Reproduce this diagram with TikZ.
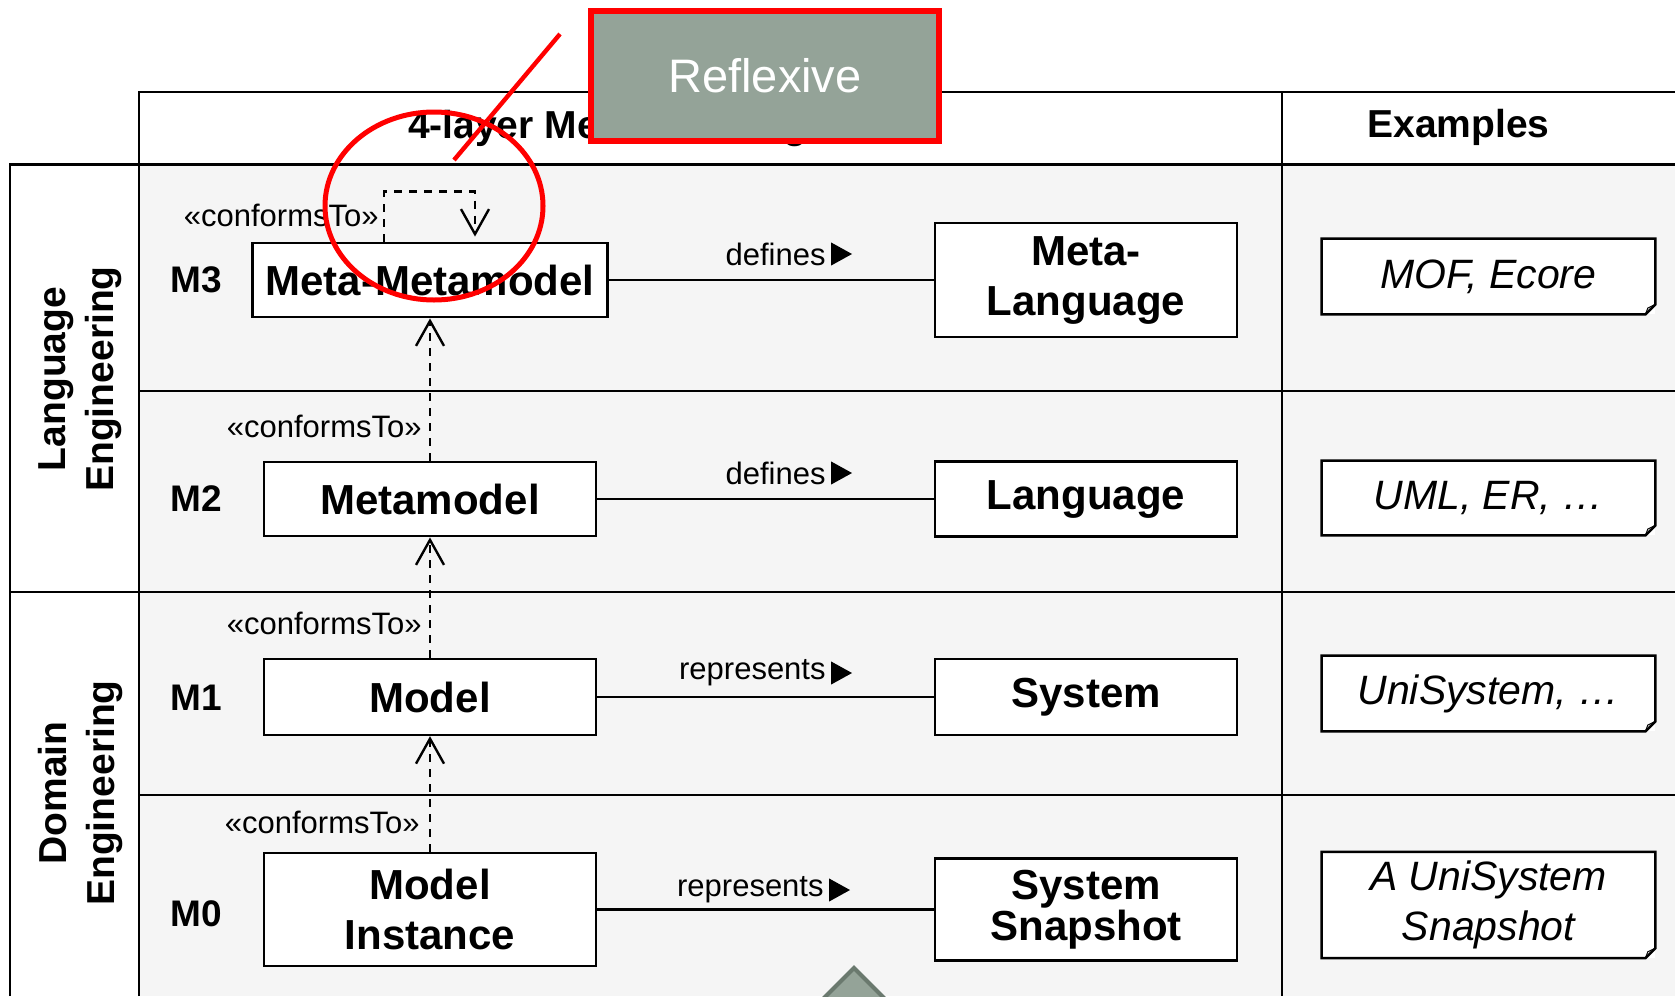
\documentclass[tikz,border=0pt]{standalone}
\usepackage{fontspec}
\setmainfont{Liberation Sans}
\usetikzlibrary{
    arrows.meta,
    positioning,
    shapes.geometric
}
\definecolor{RowGray}{RGB}{245,245,245}
\definecolor{SageGray}{RGB}{148,163,152}
\definecolor{SageDark}{RGB}{106,121,110}

\begin{document}
\begin{tikzpicture}[
    x=0.5pt,
    y=-0.5pt,
    layerbox/.style={
        draw,
        fill=white,
        line width=1.2pt,
        inner sep=0pt,
        align=center,
        font=\fontsize{21}{25}\selectfont\bfseries
    },
    examplenote/.style={
        fill=white,
        inner sep=0pt,
        align=center,
        font=\fontsize{20.5}{25}\selectfont\itshape
    },
    levellabel/.style={font=\fontsize{18.5}{22}\selectfont\bfseries},
    headlabel/.style={font=\fontsize{19.5}{24}\selectfont\bfseries},
    stereo/.style={anchor=east, inner sep=0pt, font=\fontsize{15.5}{18}\selectfont},
    conform/.style={
        -{Straight Barb[length=12.5pt, width=14pt]},
        line width=1.2pt,
        dash pattern=on 4pt off 3.5pt
    },
    rel/.style={line width=1.2pt},
    grid/.style={line width=1.2pt}
]

\useasboundingbox (0,0) rectangle (1675,996);
\fill[white] (0,0) rectangle (1675,996);
\fill[RowGray] (139,164.5) rectangle (1675,996);

\draw[grid] (139,996) -- (139,92) -- (1675,92);
\draw[grid] (1282,92) -- (1282,996);
\draw[grid] (10,996) -- (10,164.5) -- (1675,164.5);
\draw[grid] (10,592) -- (1675,592);
\draw[grid] (139,391) -- (1675,391);
\draw[grid] (139,795) -- (1675,795);

\node[headlabel] (layers) at (607.5,128) {4-layer Metamodeling};
\node[headlabel] (examples) at (1458.5,127) {Examples};

\node[headlabel, rotate=90, align=center] (langeng) at (80,379) {Language\\Engineering};
\node[headlabel, rotate=90, align=center] (domeng) at (80,793) {Domain\\Engineering};

\node[levellabel] (m3) at (196.5,280) {M3};
\node[levellabel] (m2) at (196.5,499) {M2};
\node[levellabel] (m1) at (196.5,697.5) {M1};
\node[levellabel] (m0) at (196.5,914) {M0};

\node[
    layerbox,
    minimum width=177.5pt,
    minimum height=37.25pt
] (metametamodel) at (430,280) {Meta-Metamodel};

\node[
    layerbox,
    minimum width=151pt,
    minimum height=56.75pt
] (metalanguage) at (1086,280) {Meta-\\Language};

\node[
    layerbox,
    minimum width=166pt,
    minimum height=37.25pt
] (metamodel) at (430,499) {Metamodel};

\node[
    layerbox,
    minimum width=151pt,
    minimum height=37.5pt
] (language) at (1086,499) {Language};

\node[
    layerbox,
    minimum width=166pt,
    minimum height=38pt
] (model) at (430,697) {Model};

\node[
    layerbox,
    minimum width=151pt,
    minimum height=38pt
] (system) at (1086,697) {System};

\node[
    layerbox,
    minimum width=166pt,
    minimum height=56.5pt
] (instance) at (430,909.5) {Model\\Instance};

\node[
    layerbox,
    minimum width=151pt,
    minimum height=51pt,
    font=\fontsize{21}{20.5}\selectfont\bfseries
] (snapshot) at (1086,909.5) {System\\Snapshot};

\node[stereo] (conf3) at (379,215) {«conformsTo»};
\node[stereo] (conf2) at (422,426) {«conformsTo»};
\node[stereo] (conf1) at (422,623) {«conformsTo»};
\node[stereo] (conf0) at (420,822.5) {«conformsTo»};

\node[stereo] (def3) at (826,254) {defines};
\node[stereo] (def2) at (826,473) {defines};
\node[stereo] (rep1) at (826,673) {represents};
\node[stereo] (rep0) at (824,890) {represents};

\foreach \lbl in {def3,def2,rep1,rep0}
    \fill ([xshift=2.5pt]\lbl.east) -- ++(0,5.8pt) -- ++(10.5pt,-5.8pt) -- ++(-10.5pt,-5.8pt) -- cycle;

\draw[rel] (metametamodel) -- (metalanguage);
\draw[rel] (metamodel) -- (language);
\draw[rel] (model) -- (system);
\draw[rel] (instance) -- (snapshot);

\draw[conform] (metamodel.north) -- (metametamodel.south);
\draw[conform] (model.north) -- (metamodel.south);
\draw[conform] (instance.north) -- (model.south);
\draw[conform, shorten >=2.5pt] ([xshift=-23pt]metametamodel.north) -- ++(0,25pt) -| ([xshift=22.5pt]metametamodel.north);

\node[examplenote, minimum width=166.5pt, minimum height=37.5pt] (mof) at (1488.5,276.5) {MOF, Ecore};
\node[examplenote, minimum width=166.5pt, minimum height=37pt] (uml) at (1488.5,498) {UML, ER, …};
\node[examplenote, minimum width=166.5pt, minimum height=37.5pt] (unisys) at (1488.5,693.5) {UniSystem, …};
\node[examplenote, minimum width=166.5pt, minimum height=52.75pt] (asnap) at (1488.5,905) {A UniSystem\\Snapshot};

\foreach \nt in {mof,uml,unisys,asnap} {
    \draw[line width=1.2pt] (\nt.north west) -- (\nt.north east) -- ([yshift=5pt]\nt.south east)
        -- ([xshift=-5pt]\nt.south east) -- (\nt.south west) -- cycle;
    \draw[line width=0.5pt] ([yshift=5pt]\nt.south east) -- ([xshift=-3.8pt,yshift=3.2pt]\nt.south east)
        -- ([xshift=-5pt]\nt.south east);
}

\begin{scope}
    \clip (0,0) rectangle (1675,996);
    \filldraw[fill=SageGray, draw=SageDark, line width=2pt, line join=miter] (854,968) -- (900,1014) -- (808,1014) -- cycle;
\end{scope}

% reflexive callout
\node[
    draw=red,
    ellipse,
    line width=2.5pt,
    inner sep=0pt,
    minimum width=109pt,
    minimum height=94pt
] (loopmark) at (434,206) {};

\coordinate (calloutstart) at (560,34);
\coordinate (calloutend) at (454,160);
\draw[red, line width=2.2pt] (calloutstart) -- (calloutend);

\node[
    draw=red,
    fill=SageGray,
    line width=2.6pt,
    inner sep=0pt,
    minimum width=174pt,
    minimum height=65pt,
    text=white,
    font=\fontsize{23.5}{28}\selectfont
] (reflexive) at (765,76) {Reflexive};

\end{tikzpicture}
\end{document}
